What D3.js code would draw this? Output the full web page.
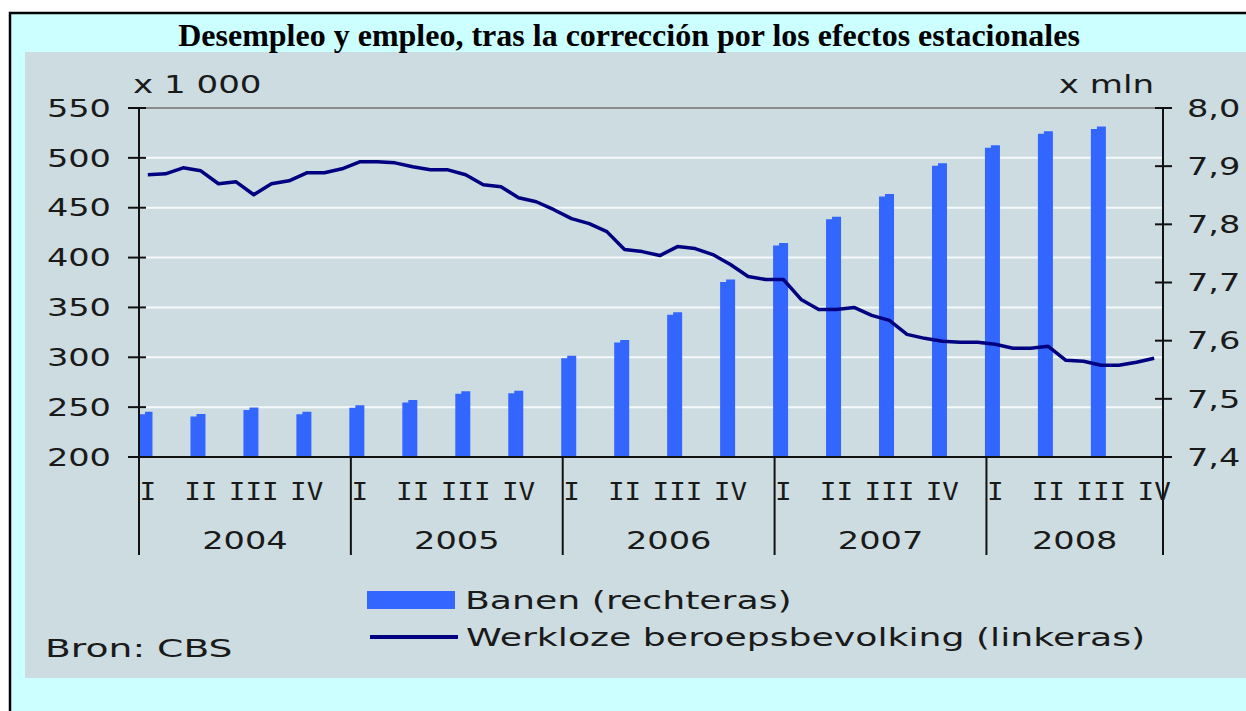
<!DOCTYPE html>
<html lang="nl">
<head>
<meta charset="UTF-8">
<title>Desempleo y empleo</title>
<script src="https://cdn.jsdelivr.net/npm/d3@7"></script>
<style>
  body { margin: 0; background: #fff; }
  svg { display: block; }
  .lbl { font-family: "DejaVu Sans", Verdana, sans-serif; font-size: 24px; fill: #1a1a1a; }
  .q { font-family: "DejaVu Sans Mono", monospace; }
  .title { font-family: "Liberation Serif", "Times New Roman", serif; font-weight: bold; font-size: 32px; fill: #000; }
</style>
</head>
<body>
<svg id="chart" width="1246" height="711"></svg>
<script>
const years = ["2004", "2005", "2006", "2007", "2008"];
const quarterLabels = ["I", "II", "III", "IV"];

// Banen (x mln), per kwartaal: 2004 I .. 2008 III
const banen = [7.478, 7.474, 7.485, 7.478,
               7.489, 7.498, 7.513, 7.514,
               7.574, 7.601, 7.649, 7.705,
               7.768, 7.813, 7.852, 7.905,
               7.936, 7.960, 7.968];

// Werkloze beroepsbevolking (x 1 000), per maand: jan 2004 .. okt 2008
const werkloos = [483, 484, 490, 487, 474, 476, 463, 474, 477, 485, 485, 489,
                  496, 496, 495, 491, 488, 488, 483, 473, 471, 460, 456, 448,
                  439, 434, 426, 408, 406, 402, 411, 409, 403, 393, 381, 378,
                  378, 358, 348, 348, 350, 342, 337, 323, 319, 316, 315, 315,
                  313, 309, 309, 311, 297, 296, 292, 292, 295, 299];

const leftTicks = [200, 250, 300, 350, 400, 450, 500, 550];
const rightTicks = [7.4, 7.5, 7.6, 7.7, 7.8, 7.9, 8.0];

const nMonths = werkloos.length;
const svg = d3.select("#chart");

const x = d3.scaleLinear().domain([0, nMonths]).range([139, 1163]);
const yL = d3.scaleLinear().domain([200, 550]).range([457, 108]);
const yR = d3.scaleLinear().domain([7.4, 8.0]).range([457, 108]);
const fmtR = v => d3.format(".1f")(v).replace(".", ",");

const SX = 1.51;   // the source font is drawn wide
function txt(x0, y0, s, anchor, sx) {
    return svg.append("text").attr("class", "lbl")
        .attr("transform", `translate(${x0},${y0}) scale(${sx || SX},1)`)
        .attr("text-anchor", anchor || "start")
        .text(s);
}

// frame + backgrounds
svg.append("rect").attr("width", 1246).attr("height", 711).attr("fill", "#fff");
svg.append("rect").attr("x", 10).attr("y", 13).attr("width", 1250).attr("height", 710)
    .attr("fill", "#ccffff").attr("stroke", "#000").attr("stroke-width", 2.5);
svg.append("rect").attr("x", 25).attr("y", 52).attr("width", 1230).attr("height", 626)
    .attr("fill", "#cddce1");

svg.append("text").attr("class", "title")
    .attr("x", 629).attr("y", 46).attr("text-anchor", "middle")
    .text("Desempleo y empleo, tras la corrección por los efectos estacionales");

// gridlines
svg.append("g").selectAll("line").data(leftTicks.slice(1)).join("line")
    .attr("x1", x(0)).attr("x2", x(nMonths))
    .attr("y1", d => yL(d)).attr("y2", d => yL(d))
    .attr("stroke", d => d === 550 ? "#8c8c8c" : "#f6f9fa")
    .attr("stroke-width", 2);

// bars (quarterly, at first month of each quarter)
svg.append("g").selectAll("path").data(banen).join("path")
    .attr("fill", "#3366ff")
    .attr("d", (d, i) => {
        const x0 = Math.max(x(i * 3) - 1.5, x(0) + 1), x1 = x(i * 3) + 13.5;
        const y0 = yR(7.4), yt = yR(d), xm = x0 + (x1 - x0) * 0.4;
        return `M${x0},${y0}V${yt + 2.5}H${xm}V${yt}H${x1}V${y0}Z`;
    });

// unemployment line
const line = d3.line().x((d, i) => x(i + 0.5)).y(d => yL(d));
svg.append("path").datum(werkloos)
    .attr("d", line)
    .attr("fill", "none").attr("stroke", "#000080")
    .attr("stroke-width", 3.5).attr("stroke-linejoin", "round");

// axes
const ax = svg.append("g").attr("stroke", "#111").attr("stroke-width", 2);
ax.append("line").attr("x1", x(0)).attr("x2", x(nMonths) + 9)
    .attr("y1", yL(200)).attr("y2", yL(200));
ax.selectAll(".lt").data(leftTicks).join("line").attr("class", "lt")
    .attr("x1", x(0) - 11).attr("x2", x(0) + 7)
    .attr("y1", d => yL(d)).attr("y2", d => yL(d));
ax.selectAll(".rt").data(rightTicks).join("line").attr("class", "rt")
    .attr("x1", x(nMonths) - 8).attr("x2", x(nMonths) + 9)
    .attr("y1", d => yR(d)).attr("y2", d => yR(d));
const dividers = years.map((y, i) => i * 12).concat([nMonths]);
ax.selectAll(".dv").data(dividers).join("line").attr("class", "dv")
    .attr("x1", d => x(d)).attr("x2", d => x(d))
    .attr("y1", (d, i) => (i === 0 || d === nMonths) ? yL(550) : yL(200))
    .attr("y2", 555);

// tick labels
leftTicks.forEach(v => txt(111, yL(v) + 8.7, v, "end", 1.4));
rightTicks.forEach(v => txt(1187, yR(v) + 8.7, fmtR(v), "start", 1.4));
txt(133, 93, "x 1 000", "start", 1.42);
txt(1154, 93, "x mln", "end", 1.42);

// quarter and year labels
for (let m = 0; m < nMonths; m += 3) {
    txt(x(m + 0.5), 500, quarterLabels[(m / 3) % 4], "middle", 1.15).classed("q", true);
}
years.forEach((y, i) => {
    const a = i * 12, b = Math.min(a + 12, nMonths);
    txt((x(a) + x(b)) / 2, 549, y, "middle", 1.4);
});

// legend
svg.append("rect").attr("x", 367).attr("y", 591).attr("width", 88).attr("height", 18)
    .attr("fill", "#3366ff");
svg.append("line").attr("x1", 370).attr("x2", 458).attr("y1", 637).attr("y2", 637)
    .attr("stroke", "#000080").attr("stroke-width", 4);
txt(465, 609, "Banen (rechteras)");
txt(466, 646, "Werkloze beroepsbevolking (linkeras)");

txt(45, 657, "Bron: CBS", "start", 1.57);
</script>
</body>
</html>
